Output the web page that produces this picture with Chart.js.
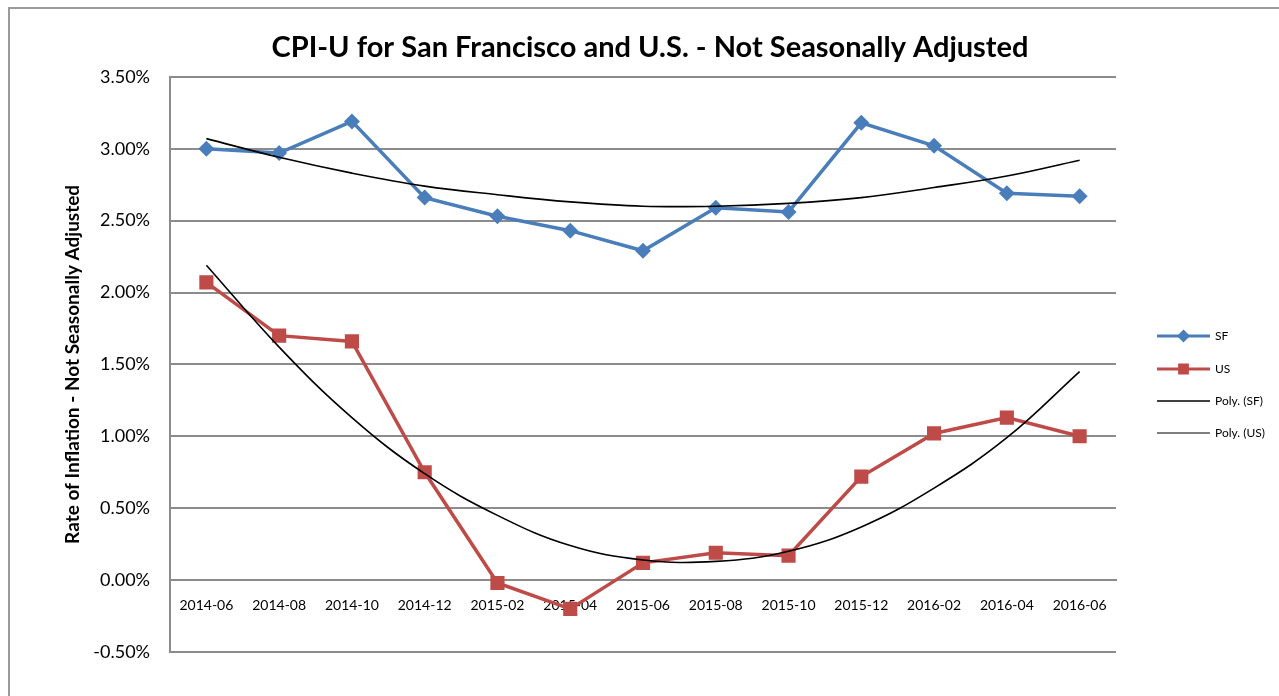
<!DOCTYPE html>
<html>
<head>
<meta charset="utf-8">
<script src="https://cdn.jsdelivr.net/npm/chart.js@4.4.1/dist/chart.umd.min.js"></script>
<style>
  html, body { margin: 0; padding: 0; background: #fff; }
  #frame { position: absolute; left: 8px; top: 7px; width: 1300px; height: 720px; border: 2px solid #9a9a9a; }
  #cpi { position: absolute; left: 0; top: 0; }
</style>
</head>
<body>
<div id="frame"></div>
<canvas id="cpi" width="1279" height="696"></canvas>
<script>
const categories = ['2014-06', '2014-08', '2014-10', '2014-12', '2015-02', '2015-04', '2015-06',
                    '2015-08', '2015-10', '2015-12', '2016-02', '2016-04', '2016-06'];
const sfValues = [3.00, 2.97, 3.19, 2.66, 2.53, 2.43, 2.29, 2.59, 2.56, 3.18, 3.02, 2.69, 2.67];
const usValues = [2.07, 1.70, 1.66, 0.75, -0.02, -0.20, 0.12, 0.19, 0.17, 0.72, 1.02, 1.13, 1.00];
// trendlines at each category
const sfTrend = [3.07, 2.94, 2.83, 2.74, 2.68, 2.63, 2.60, 2.60, 2.62, 2.66, 2.73, 2.81, 2.92];
const usTrend = [2.19, 1.62, 1.13, 0.74, 0.45, 0.24, 0.14, 0.13, 0.20, 0.37, 0.64, 0.99, 1.45];
const yMin = -0.5, yMax = 3.5, yStep = 0.5;

const gridColor = '#8c8c8c';
const FONT = 'Lato, "Open Sans", sans-serif';

// title is centred on the whole frame, not only on the plot + padding
const shiftTitle = {
  id: 'shiftTitle',
  afterLayout(chart) {
    chart.titleBlock.left = 184;
    chart.titleBlock.right = chart.chartArea.right;
  }
};

// legend drawn at the right like the spreadsheet one (line with marker in the middle)
const sideLegend = {
  id: 'sideLegend',
  afterDraw(chart) {
    const ctx = chart.ctx;
    const x0 = chart.chartArea.right + 41, x1 = x0 + 53;
    const rows = [336, 369, 401, 433];
    chart.data.datasets.forEach((ds, i) => {
      const y = rows[i];
      ctx.save();
      ctx.strokeStyle = ds.borderColor;
      ctx.lineWidth = ds.legendLine;
      ctx.beginPath();
      ctx.moveTo(x0, y);
      ctx.lineTo(x1, y);
      ctx.stroke();
      if (ds.pointRadius > 0) {
        Chart.helpers.drawPoint(ctx, {
          pointStyle: ds.pointStyle, radius: ds.pointRadius * 0.55, borderWidth: 1
        }, (x0 + x1) / 2, y);
        ctx.fillStyle = ds.backgroundColor;
        ctx.fill();
      }
      ctx.fillStyle = '#000';
      ctx.font = '12px ' + FONT;
      ctx.textBaseline = 'middle';
      ctx.fillText(ds.label, x1 + 5, y);
      ctx.restore();
    });
  }
};

new Chart(document.getElementById('cpi'), {
  type: 'line',
  data: {
    labels: categories,
    datasets: [
      {
        label: 'SF', data: sfValues, borderColor: '#4a7ebb', backgroundColor: '#4a7ebb',
        borderWidth: 3.5, pointStyle: 'rectRot', pointRadius: 8, pointBorderWidth: 0,
        tension: 0, order: 3, legendLine: 3
      },
      {
        label: 'US', data: usValues, borderColor: '#be4b48', backgroundColor: '#be4b48',
        borderWidth: 3.5, pointStyle: 'rect', pointRadius: 10, pointBorderWidth: 0,
        tension: 0, order: 2, legendLine: 3
      },
      {
        label: 'Poly. (SF)', data: sfTrend, borderColor: '#000', backgroundColor: '#000',
        borderWidth: 1.6, pointRadius: 0, tension: 0.4, order: 1, legendLine: 1.4
      },
      {
        label: 'Poly. (US)', data: usTrend, borderColor: '#000', backgroundColor: '#000',
        borderWidth: 1.6, pointRadius: 0, tension: 0.4, order: 0, legendLine: 1.1
      }
    ]
  },
  plugins: [shiftTitle, sideLegend],
  options: {
    responsive: false,
    animation: false,
    events: [],
    layout: {
      padding: { top: 0, bottom: 44, left: 0, right: 163 }
    },
    plugins: {
      legend: { display: false },
      tooltip: { enabled: false },
      title: {
        display: true,
        text: 'CPI-U for San Francisco and U.S. - Not Seasonally Adjusted',
        color: '#000',
        font: { family: FONT, size: 29, weight: 'bold' },
        padding: { top: 30, bottom: 12 }
      }
    },
    scales: {
      x: {
        type: 'category',
        position: { y: 0 },
        offset: true,
        grid: { display: false },
        border: { display: true, color: gridColor, width: 2 },
        ticks: { color: '#000', padding: 9, autoSkip: false, maxRotation: 0,
                 font: { family: FONT, size: 14 } }
      },
      y: {
        min: yMin,
        max: yMax,
        afterFit(scale) { scale.width = 170; },
        ticks: {
          stepSize: yStep,
          padding: 20,
          color: '#000',
          font: { family: FONT, size: 18 },
          callback: (v) => v.toFixed(2) + '%'
        },
        grid: { color: gridColor, lineWidth: 2, drawTicks: false },
        border: { color: gridColor, width: 2 },
        title: {
          display: true,
          text: 'Rate of Inflation - Not Seasonally Adjusted',
          color: '#000',
          font: { family: FONT, size: 19, weight: 'bold' },
          padding: { top: 61, bottom: 0 }
        }
      }
    }
  }
});
</script>
</body>
</html>
